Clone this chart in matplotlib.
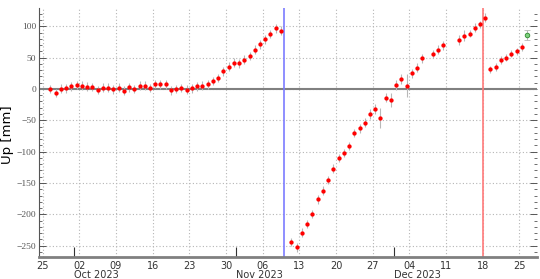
import numpy as np
import pandas as pd
import matplotlib
matplotlib.use("Agg")
import matplotlib.pyplot as plt
import matplotlib.dates as mdates
from matplotlib.ticker import MultipleLocator

# daily solutions (12:00)
seg1_days = pd.date_range("2023-09-26 12:00", "2023-11-09 12:00", freq="D")
seg1_up = [0, -6.4, 0.5, 1, 4.3, 6.4, 5.3, 3.7, 3.2, -1.6, 2.1, 2.1, -0.5, 2.1, -2.7, 2.7, 0,
           5.0, 5.0, 1.5, 8.0, 7.5, 7.2,
           -2.1, 0, 1.6, -1.3, 0.8, 4.0, 5.0, 7.3, 12.8, 17.6, 28.2, 35.4, 42.1, 40.8, 46.8,
           52.5, 62.8, 71.5, 79.0, 87.7, 96.8, 93.1]
seg2_days = pd.date_range("2023-11-11 12:00", "2023-12-06 12:00", freq="D")
seg2_up = [-244.0, -252.5, -229.1, -215.3, -199.3, -175.9, -162.6, -145.1, -127.0, -110.0,
           -102.0, -90.9, -70.1, -62.7, -53.6, -40.4, -32.1, -46.2, -13.8, -17.0,
           5.9, 16.5, 5.4, 25.0, 34.1, 48.7]
seg3_days = pd.date_range("2023-12-08 12:00", "2023-12-10 12:00", freq="D")
seg3_up = [55.9, 62.8, 69.7]
seg4_days = pd.date_range("2023-12-13 12:00", "2023-12-25 12:00", freq="D")
seg4_up = [78.7, 85.1, 88.3, 97.9, 103.2, 113.8, 31.4, 35.1, 45.8, 50.0, 56.4, 60.1, 67.0]

err1 = [7] * 45
err2 = [7, 7, 7, 7, 7, 7, 7, 7, 7, 7, 7, 7, 7, 7, 7, 8, 8, 16, 7, 11, 8, 8, 18, 7, 7, 7]
err3 = [7, 7, 7]
err4 = [8, 9, 6, 7, 6, 7, 6, 6, 6, 6, 6, 6, 6]

last_day = pd.Timestamp("2023-12-26 12:00")
last_up = 85.6
last_err = 8

events = {"2023-11-10": "#7b7bff", "2023-12-18": "#ff7a7a"}

days = seg1_days.append([seg2_days, seg3_days, seg4_days])
up = np.array(seg1_up + seg2_up + seg3_up + seg4_up)
err = np.array(err1 + err2 + err3 + err4)

fig = plt.figure(figsize=(5.4, 2.79), dpi=100)
ax = fig.add_axes([0.072, 0.079, 0.922, 0.892])

ax.axhline(0, color="#808080", lw=1.5, zorder=2)
for d, c in events.items():
    ax.axvline(pd.Timestamp(d), color=c, lw=1.2, zorder=2)

ax.errorbar(days, up, yerr=err, fmt="o", color="red", ms=3.1, mew=0,
            ecolor="#b8b8b8", elinewidth=0.8, capsize=2.3, capthick=0.8, zorder=3)
ax.errorbar([last_day], [last_up], yerr=[last_err], fmt="o", color="#7fd07f", ms=3.3,
            mec="#2e8b2e", mew=0.6, ecolor="#b8b8b8", elinewidth=0.8, capsize=2.3,
            capthick=0.8, zorder=3)

ax.set_xlim(pd.Timestamp("2023-09-24 07:00"), pd.Timestamp("2023-12-28 08:00"))
ax.set_ylim(-268, 129)

# x: weekly labels (minor) + month labels (major)
ax.xaxis.set_minor_locator(mdates.WeekdayLocator(byweekday=mdates.MO))
ax.xaxis.set_minor_formatter(mdates.DateFormatter("%d"))
ax.xaxis.set_major_locator(mdates.MonthLocator())
ax.xaxis.set_major_formatter(mdates.DateFormatter("%b %Y"))
ax.tick_params(axis="x", which="minor", length=0, pad=3, labelsize=7, labelcolor="#333333")
ax.tick_params(axis="x", which="major", direction="in", length=7, width=0.8, color="#333333",
               pad=9.5, labelsize=7, labelcolor="#333333")
for lab in ax.get_xticklabels(which="major"):
    lab.set_horizontalalignment("left")

# y
ax.yaxis.set_major_locator(MultipleLocator(50))
ax.yaxis.set_minor_locator(MultipleLocator(10))
ax.tick_params(axis="y", which="both", direction="in", left=True, right=True, color="#555555")
ax.tick_params(axis="y", which="major", length=5, width=0.7, labelsize=6.8, labelcolor="#555555", pad=2)
ax.tick_params(axis="y", which="minor", length=2.5, width=0.6)
for lab in ax.get_yticklabels():
    lab.set_fontfamily("Liberation Serif")

ax.grid(True, axis="x", which="minor", color="#b5b5b5", ls=(0, (1, 2)), lw=0.8)
ax.grid(True, axis="y", which="major", color="#b5b5b5", ls=(0, (1, 2)), lw=0.8)
ax.set_axisbelow(True)

ax.spines["top"].set_visible(False)
ax.spines["right"].set_visible(False)
ax.spines["left"].set_color("#555555")
ax.spines["left"].set_linewidth(0.8)
ax.spines["bottom"].set_color("#808080")
ax.spines["bottom"].set_linewidth(2)

ax.set_ylabel("Up [mm]", fontsize=9.5)
ax.yaxis.set_label_coords(-0.05, 0.49)

fig.savefig("out.png", dpi=100)
